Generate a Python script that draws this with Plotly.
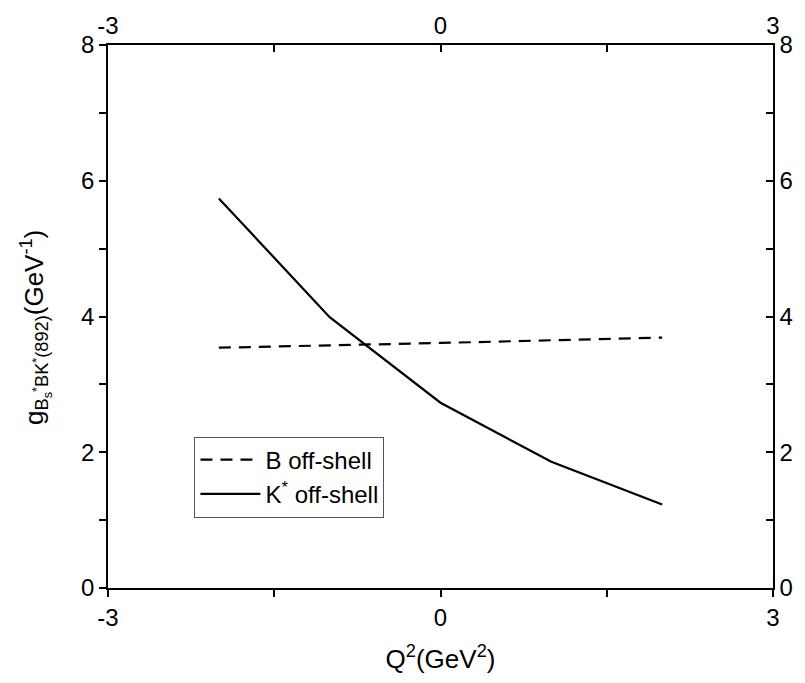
import plotly.graph_objects as go

q2 = [-2, -1, 0, 1, 2]
g_b_offshell = [3.54, 3.57, 3.61, 3.65, 3.69]
g_kstar_offshell = [5.74, 3.99, 2.73, 1.86, 1.23]

font = dict(family="Liberation Sans, Arial, sans-serif", color="black")

fig = go.Figure()
fig.add_trace(go.Scatter(x=q2, y=g_b_offshell, mode="lines", name="B off-shell",
                         line=dict(color="black", width=2.2, dash="12px,8px")))
fig.add_trace(go.Scatter(x=q2, y=g_kstar_offshell, mode="lines", name="K<sup>*</sup> off-shell",
                         line=dict(color="black", width=2.2)))
fig.add_trace(go.Scatter(x=[0], y=[0], xaxis="x2", yaxis="y2", mode="markers",
                         marker=dict(opacity=0), showlegend=False, hoverinfo="skip"))

axis_common = dict(showline=True, linecolor="black", linewidth=1.5, showgrid=False,
                   zeroline=False, tickcolor="black", tickwidth=1.5, ticklen=7,
                   tickfont=dict(size=24, **font))

ytitle = "g<sub>B<sub>s</sub><sup>*</sup>BK<sup>*</sup>(892)</sub>(GeV<sup>-1</sup>)"

fig.update_layout(
    width=805, height=683,
    margin=dict(l=108, r=26, t=43, b=95),
    plot_bgcolor="white", paper_bgcolor="white",
    font=font,
    xaxis=dict(range=[-3, 3], tickvals=[-3, 0, 3], ticktext=["-3", "0", "3"], ticks="outside",
               minor=dict(tickvals=[-1.5, 1.5], ticks="outside", ticklen=7, tickcolor="black", tickwidth=1.5),
               title=dict(text="Q<sup>2</sup>(GeV<sup>2</sup>)", font=dict(size=26, **font), standoff=20),
               **axis_common),
    yaxis=dict(range=[0, 8], tickvals=[0, 2, 4, 6, 8], ticks="outside",
               minor=dict(tickvals=[1, 3, 5, 7], ticks="outside", ticklen=7, tickcolor="black", tickwidth=1.5),
               **axis_common),
    xaxis2=dict(range=[-3, 3], overlaying="x", side="top", anchor="y2", tickvals=[-3, 0, 3],
                ticktext=["-3", "0", "3"], ticks="inside",
                minor=dict(tickvals=[-1.5, 1.5], ticks="inside", ticklen=7, tickcolor="black", tickwidth=1.5),
                **axis_common),
    yaxis2=dict(range=[0, 8], overlaying="y", side="right", anchor="x2", tickvals=[0, 2, 4, 6, 8],
                ticks="inside",
                minor=dict(tickvals=[1, 3, 5, 7], ticks="inside", ticklen=7, tickcolor="black", tickwidth=1.5),
                **axis_common),
    legend=dict(x=0.13, y=0.279, xanchor="left", yanchor="top", bordercolor="#555555", borderwidth=1,
                bgcolor="white", font=dict(size=24, **font), tracegroupgap=0, itemwidth=60),
    showlegend=True,
)

fig.add_annotation(text=ytitle, xref="paper", yref="paper", x=0, y=0.479, xshift=-72,
                   xanchor="center", yanchor="middle", textangle=-90, showarrow=False,
                   font=dict(size=26, **font))

fig.write_html("out.html")
